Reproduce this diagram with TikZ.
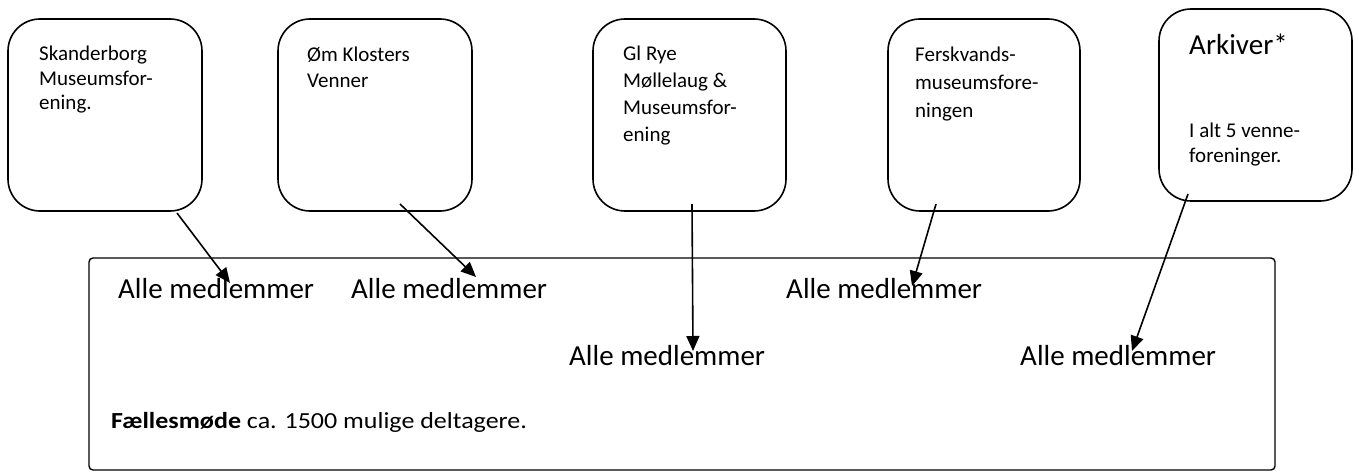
\documentclass[tikz,border=0pt]{standalone}
\usepackage{fontspec}
\setmainfont{Carlito}
\usetikzlibrary{arrows.meta}
\begin{document}
\begin{tikzpicture}[x=1pt,y=-1pt,
  club/.style={draw, line width=1.6pt, rounded corners=32pt, minimum width=#1, minimum height=192pt, inner sep=0pt},
  bigbox/.style={draw, line width=1.4pt, rounded corners=4pt, minimum width=1186pt, minimum height=212pt, inner sep=0pt},
  txt/.style={anchor=base west, inner sep=0pt, font=\fontsize{21}{25}\selectfont},
  bigtxt/.style={anchor=base west, inner sep=0pt, font=\fontsize{29}{34}\selectfont},
  conn/.style={line width=1.6pt, -{Triangle[length=15pt,width=13pt]}}
]
\useasboundingbox (0,0) rectangle (1359,473);

% club boxes
\node[club=194pt] (b1) at (105,115) {};
\node[club=194pt] (b2) at (375,115) {};
\node[club=193pt] (b3) at (689.5,115) {};
\node[club=192pt] (b4) at (984,115) {};
\node[club=193pt] (b5) at (1255.5,105) {};

% joint meeting box
\node[bigbox] (meet) at (682,364) {};

% box texts
\node[txt] (b1a) at (39,61) {Skanderborg};
\node[txt] (b1b) at (39,85.5) {Museumsfor-};
\node[txt] (b1c) at (39,110) {ening.};

\node[txt] (b2a) at (307,62) {Øm Klosters};
\node[txt] (b2b) at (307,88) {Venner};

\node[txt] (b3a) at (623,61) {Gl Rye};
\node[txt] (b3b) at (623,88) {Møllelaug \&};
\node[txt] (b3c) at (623,115) {Museumsfor-};
\node[txt] (b3d) at (623,142) {ening};

\node[txt] (b4a) at (915,62) {Ferskvands-};
\node[txt] (b4b) at (915,90) {museumsfore-};
\node[txt] (b4c) at (915,118) {ningen};

\node[bigtxt] (b5a) at (1189,55) {Arkiver*};
\node[txt] (b5b) at (1189,138) {I alt 5 venne-};
\node[txt] (b5c) at (1189,163) {foreninger.};

% member labels
\node[bigtxt] (m1) at (118,298) {Alle medlemmer};
\node[bigtxt] (m2) at (351,298) {Alle medlemmer};
\node[bigtxt] (m3) at (569,365) {Alle medlemmer};
\node[bigtxt] (m4) at (786,298) {Alle medlemmer};
\node[bigtxt] (m5) at (1020,365) {Alle medlemmer};

\node[txt, font=\fontsize{23}{27}\selectfont, xscale=1.13] (fm) at (111,428) {\textbf{Fællesmøde} ca. 1500 mulige deltagere.};

% connector ends
\coordinate (s1) at (177,213);
\coordinate (t1) at (230,283);
\coordinate (s2) at (400,204);
\coordinate (t2) at (476,277);
\coordinate (s3) at (692,204);
\coordinate (t3) at (693,351);
\coordinate (s4) at (936,204);
\coordinate (t4) at (912,286);
\coordinate (s5) at (1188,194);
\coordinate (t5) at (1132,351);

\draw[conn] (s1) -- (t1);
\draw[conn] (s2) -- (t2);
\draw[conn] (s3) -- (t3);
\draw[conn] (s4) -- (t4);
\draw[conn] (s5) -- (t5);
\end{tikzpicture}
\end{document}
